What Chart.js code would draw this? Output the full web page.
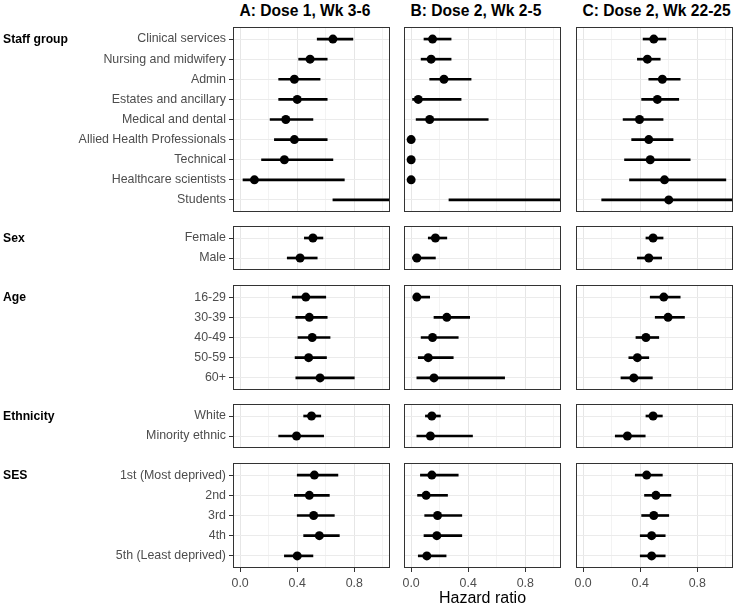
<!DOCTYPE html>
<html>
<head>
<meta charset="utf-8">
<script src="https://cdn.jsdelivr.net/npm/chart.js@4.4.0/dist/chart.umd.min.js"></script>
<style>
    body { margin: 0; background: #fff; font-family: "Liberation Sans", Arial, sans-serif; }
    #wrap { position: relative; width: 738px; height: 610px; overflow: hidden; }
    canvas { position: absolute; }
    .title { position: absolute; top: 2px; font-size: 15.6px; line-height: 18px; font-weight: bold; color: #000; white-space: nowrap; }
    .group { position: absolute; left: 3px; font-size: 12.2px; line-height: 14px; font-weight: bold; color: #000; white-space: nowrap; }
    .xtitle { position: absolute; font-size: 16px; line-height: 18px; color: #000; text-align: center; }
</style>
</head>
<body>
<div id="wrap"></div>
<script>
// Row labels for each section
const staffGroups = ['Clinical services', 'Nursing and midwifery', 'Admin', 'Estates and ancillary', 'Medical and dental',
    'Allied Health Professionals', 'Technical', 'Healthcare scientists', 'Students'];
const sexGroups = ['Female', 'Male'];
const ageGroups = ['16-29', '30-39', '40-49', '50-59', '60+'];
const ethnicityGroups = ['White', 'Minority ethnic'];
const sesGroups = ['1st (Most deprived)', '2nd', '3rd', '4th', '5th (Least deprived)'];

const panelTitles = ['A: Dose 1, Wk 3-6', 'B: Dose 2, Wk 2-5', 'C: Dose 2, Wk 22-25'];
const xTicks = [0, 0.2, 0.4, 0.6, 0.8, 1.0];

// each row: [hazard ratio, lower CI, upper CI]
const staffA = [[0.65, 0.54, 0.79], [0.49, 0.41, 0.61], [0.38, 0.27, 0.56], [0.40, 0.27, 0.61], [0.32, 0.21, 0.51],
    [0.38, 0.24, 0.61], [0.31, 0.15, 0.65], [0.10, 0.02, 0.73], [1.45, 0.65, 3.2]];
const staffB = [[0.15, 0.09, 0.28], [0.14, 0.07, 0.28], [0.23, 0.13, 0.42], [0.05, 0.01, 0.35], [0.13, 0.035, 0.54],
    [0, null, null], [0, null, null], [0, null, null], [1.15, 0.265, 5.0]];
const staffC = [[0.495, 0.42, 0.58], [0.45, 0.38, 0.54], [0.555, 0.46, 0.68], [0.52, 0.41, 0.67], [0.395, 0.28, 0.56],
    [0.46, 0.34, 0.63], [0.47, 0.29, 0.75], [0.57, 0.325, 1.0], [0.60, 0.13, 2.8]];
const sexA = [[0.51, 0.45, 0.58], [0.42, 0.33, 0.54]];
const sexB = [[0.17, 0.12, 0.25], [0.04, 0.01, 0.17]];
const sexC = [[0.49, 0.44, 0.56], [0.46, 0.38, 0.55]];
const ageA = [[0.46, 0.365, 0.60], [0.485, 0.39, 0.61], [0.505, 0.405, 0.63], [0.48, 0.385, 0.605], [0.56, 0.39, 0.80]];
const ageB = [[0.04, 0.015, 0.13], [0.25, 0.16, 0.41], [0.15, 0.07, 0.33], [0.12, 0.05, 0.295], [0.16, 0.04, 0.655]];
const ageC = [[0.565, 0.47, 0.68], [0.595, 0.505, 0.71], [0.44, 0.37, 0.53], [0.38, 0.32, 0.46], [0.355, 0.265, 0.485]];
const ethnicityA = [[0.50, 0.445, 0.565], [0.395, 0.27, 0.585]];
const ethnicityB = [[0.145, 0.10, 0.205], [0.135, 0.04, 0.43]];
const ethnicityC = [[0.49, 0.44, 0.555], [0.31, 0.225, 0.435]];
const sesA = [[0.52, 0.40, 0.685], [0.485, 0.38, 0.625], [0.515, 0.40, 0.66], [0.555, 0.445, 0.695], [0.40, 0.31, 0.51]];
const sesB = [[0.145, 0.065, 0.33], [0.105, 0.045, 0.255], [0.185, 0.095, 0.355], [0.18, 0.09, 0.355], [0.11, 0.05, 0.245]];
const sesC = [[0.445, 0.365, 0.555], [0.51, 0.43, 0.615], [0.495, 0.41, 0.60], [0.48, 0.40, 0.575], [0.48, 0.40, 0.575]];

const sections = [
    { name: 'Staff group', labels: staffGroups, cols: [staffA, staffB, staffC] },
    { name: 'Sex', labels: sexGroups, cols: [sexA, sexB, sexC] },
    { name: 'Age', labels: ageGroups, cols: [ageA, ageB, ageC] },
    { name: 'Ethnicity', labels: ethnicityGroups, cols: [ethnicityA, ethnicityB, ethnicityC] },
    { name: 'SES', labels: sesGroups, cols: [sesA, sesB, sesC] }
];

// Layout of the panel grid
const colLeft = [233, 404, 576];
const panelW = 157;
const rowUnit = 20.14;
const panelGap = 14.5;
const firstTop = 26.5;
const fontFamily = '"Liberation Sans", Arial, sans-serif';

Chart.defaults.font.family = fontFamily;

// Dark frame around each panel
const panelFrame = {
    id: 'panelFrame',
    afterDraw(chart) {
        const { ctx, chartArea: a } = chart;
        ctx.save();
        ctx.strokeStyle = '#333';
        ctx.lineWidth = 1;
        ctx.strokeRect(Math.round(a.left) + 0.5, Math.round(a.top) + 0.5, Math.round(a.width) - 1, Math.round(a.height) - 1);
        ctx.restore();
    }
};

// keep the chart area fixed: no label overhang padding
function noPadding(s) {
    s.paddingLeft = 0;
    s.paddingRight = 0;
    s.paddingTop = 0;
    s.paddingBottom = 0;
}

const wrap = document.getElementById('wrap');

function addText(cls, text, css) {
    const d = document.createElement('div');
    d.className = cls;
    d.textContent = text;
    Object.assign(d.style, css);
    wrap.appendChild(d);
}

function addPanel(sec, col, top, h, isBottom) {
    // column A carries the row labels; B and C get a small margin so "0.0" is not cut
    const yW = col === 0 ? colLeft[0] : 10;
    const xH = isBottom ? 26 : 0;
    const cv = document.createElement('canvas');
    cv.width = yW + panelW;
    cv.height = h + xH;
    cv.style.left = (colLeft[col] - yW) + 'px';
    cv.style.top = top + 'px';
    cv.style.width = cv.width + 'px';
    cv.style.height = cv.height + 'px';
    wrap.appendChild(cv);

    const rows = sec.cols[col];
    const labels = sec.labels;

    new Chart(cv, {
        type: 'scatter',
        data: {
            datasets: [{
                type: 'scatter',
                data: rows.map((r, i) => ({ x: r[0], y: i })),
                backgroundColor: '#000',
                borderWidth: 0,
                pointRadius: 4.5,
                pointHoverRadius: 4.5,
                order: 0
            }, {
                type: 'bar',
                indexAxis: 'y',
                data: rows.map((r, i) => ({ x: [r[1], r[2]], y: i })).filter(d => d.x[0] !== null),
                backgroundColor: '#000',
                borderWidth: 0,
                barThickness: 2,
                clip: 0,
                order: 1
            }]
        },
        options: {
            responsive: false,
            animation: false,
            events: [],
            layout: { padding: 0, autoPadding: false },
            plugins: { legend: { display: false }, tooltip: { enabled: false } },
            scales: {
                x: {
                    type: 'linear',
                    min: -0.05,
                    max: 1.05,
                    bounds: 'data',
                    offset: false,
                    afterBuildTicks: s => { s.ticks = xTicks.map(v => ({ value: v })); },
                    afterFit: s => { s.height = xH; noPadding(s); },
                    border: { display: false },
                    grid: {
                        offset: false,
                        color: c => c.index % 2 === 0 ? '#e6e6e6' : '#f3f3f3',
                        lineWidth: 1,
                        drawTicks: isBottom,
                        tickLength: 4,
                        tickColor: c => c.index % 2 === 0 ? '#333' : 'rgba(0,0,0,0)'
                    },
                    ticks: {
                        display: isBottom,
                        autoSkip: false,
                        maxRotation: 0,
                        padding: 4,
                        color: '#4d4d4d',
                        font: { size: 12.4 },
                        callback: (v, i) => i % 2 === 0 ? v.toFixed(1) : ''
                    }
                },
                y: {
                    type: 'linear',
                    reverse: true,
                    min: -0.6,
                    max: rows.length - 0.4,
                    bounds: 'data',
                    offset: false,
                    afterBuildTicks: s => { s.ticks = labels.map((_, i) => ({ value: i })); },
                    afterFit: s => { s.width = yW; noPadding(s); },
                    border: { display: false },
                    grid: {
                        offset: false,
                        color: '#ebebeb',
                        lineWidth: 1,
                        drawTicks: col === 0,
                        tickLength: 4,
                        tickColor: '#333'
                    },
                    ticks: {
                        display: col === 0,
                        autoSkip: false,
                        padding: 3,
                        color: '#4d4d4d',
                        font: { size: 12.4 },
                        callback: v => labels[v]
                    }
                }
            }
        },
        plugins: [panelFrame]
    });
}

// Build the grid of panels, section by section
let y = firstTop;
sections.forEach((sec, g) => {
    const h = Math.round((sec.labels.length + 0.2) * rowUnit);
    const top = Math.round(y);
    const isBottom = g === sections.length - 1;
    for (let c = 0; c < 3; c++) addPanel(sec, c, top, h, isBottom);
    addText('group', sec.name, { top: (top + 0.6 * rowUnit - 7) + 'px' });
    if (isBottom) {
        addText('xtitle', 'Hazard ratio', { left: colLeft[1] + 'px', width: panelW + 'px', top: (top + h + 21) + 'px' });
    }
    y += h + panelGap;
});

panelTitles.forEach((t, c) => addText('title', t, { left: (colLeft[c] + 6.5) + 'px' }));
</script>
</body>
</html>
